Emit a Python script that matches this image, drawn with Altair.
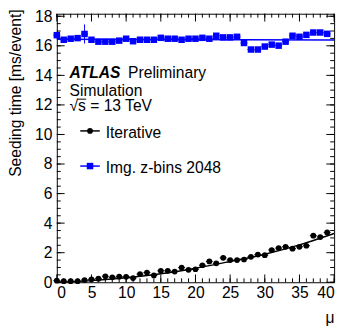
import altair as alt
import pandas as pd

# ---------------- data ----------------
mu = list(range(40))
iterative = [0.11, 0.07, 0.07, 0.07, 0.15, 0.20, 0.24, 0.40, 0.33, 0.38,
             0.37, 0.28, 0.55, 0.66, 0.46, 0.77, 0.77, 0.72, 0.99, 0.84,
             0.88, 1.15, 1.41, 1.28, 1.65, 1.50, 1.50, 1.54, 1.72, 1.87,
             1.83, 2.18, 2.31, 2.40, 2.27, 2.40, 2.47, 3.15, 3.06, 3.37]
imgz = [16.72, 16.41, 16.48, 16.52, 16.80, 16.41, 16.28, 16.28, 16.28, 16.35,
        16.48, 16.31, 16.41, 16.41, 16.41, 16.54, 16.48, 16.48, 16.41, 16.48,
        16.48, 16.54, 16.48, 16.68, 16.57, 16.57, 16.61, 16.19, 15.75, 15.75,
        15.95, 16.08, 16.01, 16.28, 16.68, 16.61, 16.74, 16.90, 16.90, 16.81]
imgz_err = [0.15, 0.03, 0.03, 0.03, 0.65, 0.03, 0.03, 0.03, 0.03, 0.03,
            0.03, 0.03, 0.03, 0.03, 0.03, 0.03, 0.03, 0.03, 0.03, 0.03,
            0.03, 0.03, 0.03, 0.03, 0.03, 0.03, 0.03, 0.03, 0.03, 0.03,
            0.03, 0.03, 0.03, 0.03, 0.03, 0.03, 0.03, 0.03, 0.03, 0.03]
iter_fit_mu = [0, 5, 10, 15, 20, 25, 30, 35, 40]
iter_fit = [0.0, 0.11, 0.30, 0.57, 0.95, 1.41, 1.90, 2.53, 3.30]
img_fit_mu = [0, 40]
img_fit = [16.45, 16.40]

x_major = [0, 5, 10, 15, 20, 25, 30, 35, 40]
x_minor = list(range(41))
y_major = [0, 2, 4, 6, 8, 10, 12, 14, 16, 18]
y_minor = [i * 0.5 for i in range(37)]

x_domain = [0, 40]
y_domain = [0, 18.17]

W, H = 284, 275
FONT = "Liberation Sans"
BLUE = "#0000ff"

xs = alt.Scale(domain=x_domain, nice=False, zero=False)
ys = alt.Scale(domain=y_domain, nice=False, zero=False)

df_iter = pd.DataFrame({"mu": mu, "t": iterative})
df_img = pd.DataFrame({"mu": mu, "t": imgz, "e": imgz_err})
df_iter_fit = pd.DataFrame({"mu": iter_fit_mu, "t": iter_fit})
df_img_fit = pd.DataFrame({"mu": img_fit_mu, "t": img_fit})
one = pd.DataFrame({"a": [0]})

x_axis = alt.Axis(values=x_major, ticks=False, tickSize=0, domain=False, grid=False,
                  labelFont=FONT, labelFontSize=16, labelColor="black", labelPadding=3,
                  title="μ", titleFont=FONT, titleFontSize=16, titleFontWeight="normal",
                  titleColor="black", titleAnchor="end", titleAlign="right",
                  titleBaseline="alphabetic", titleX=W, titleY=41)
y_axis = alt.Axis(values=y_major, ticks=False, tickSize=0, domain=False, grid=False,
                  labelFont=FONT, labelFontSize=16, labelColor="black", labelPadding=5,
                  title="Seeding time [ms/event]", titleFont=FONT, titleFontSize=16,
                  titleFontWeight="normal", titleColor="black", titleAnchor="end",
                  titleAngle=270, titleAlign="right", titleBaseline="alphabetic",
                  titleX=-37, titleY=-5)


def X(field):
    return alt.X(field, scale=xs, axis=x_axis)


def Y(field):
    return alt.Y(field, scale=ys, axis=y_axis)


layers = []

# tick marks pointing inward on all four sides
for vals, ln in ((x_major, 8), (x_minor, 4)):
    d = pd.DataFrame({"v": vals})
    layers.append(alt.Chart(d).mark_rule(color="black", strokeWidth=1).encode(
        x=X("v:Q"), y=alt.value(H), y2=alt.value(H - ln)))
    layers.append(alt.Chart(d).mark_rule(color="black", strokeWidth=1).encode(
        x=X("v:Q"), y=alt.value(0), y2=alt.value(ln)))
for vals, ln in ((y_major, 8), (y_minor, 4)):
    d = pd.DataFrame({"v": vals})
    layers.append(alt.Chart(d).mark_rule(color="black", strokeWidth=1).encode(
        y=Y("v:Q"), x=alt.value(0), x2=alt.value(ln)))
    layers.append(alt.Chart(d).mark_rule(color="black", strokeWidth=1).encode(
        y=Y("v:Q"), x=alt.value(W), x2=alt.value(W - ln)))

# fit lines
layers.append(alt.Chart(df_iter_fit).mark_line(color="black", strokeWidth=1.5, interpolate="monotone").encode(
    x=X("mu:Q"), y=Y("t:Q")))
layers.append(alt.Chart(df_img_fit).mark_line(color=BLUE, strokeWidth=1.5).encode(
    x=X("mu:Q"), y=Y("t:Q")))

# horizontal (bin width) error bars
layers.append(alt.Chart(df_iter).transform_calculate(lo="datum.mu - 0.5", hi="datum.mu + 0.5")
              .mark_rule(color="black", strokeWidth=1).encode(x=X("lo:Q"), x2="hi:Q", y=Y("t:Q")))
layers.append(alt.Chart(df_img).transform_calculate(lo="datum.mu - 0.5", hi="datum.mu + 0.5")
              .mark_rule(color=BLUE, strokeWidth=1).encode(x=X("lo:Q"), x2="hi:Q", y=Y("t:Q")))
# vertical error bars
layers.append(alt.Chart(df_img).transform_calculate(lo="datum.t - datum.e", hi="datum.t + datum.e")
              .mark_rule(color=BLUE, strokeWidth=1).encode(x=X("mu:Q"), y=Y("lo:Q"), y2="hi:Q"))

# markers
layers.append(alt.Chart(df_iter).mark_point(shape="circle", filled=True, color="black", size=34, opacity=1).encode(
    x=X("mu:Q"), y=Y("t:Q")))
layers.append(alt.Chart(df_img).mark_point(shape="square", filled=True, color=BLUE, size=44, opacity=1).encode(
    x=X("mu:Q"), y=Y("t:Q")))


# legend
def txt(s, x, y, **kw):
    return alt.Chart(one).mark_text(align="left", baseline="alphabetic", font=FONT, fontSize=16,
                                    color="black", **kw).encode(
        x=alt.value(x), y=alt.value(y), text=alt.value(s))


layers.append(txt("ATLAS", 13, 66, fontStyle="italic", fontWeight="bold"))
layers.append(txt("Preliminary", 73, 66))
layers.append(txt("Simulation", 13, 84))
layers.append(txt("√s = 13 TeV", 13, 100))
# overbar of the square root
layers.append(alt.Chart(one).mark_rule(color="black", strokeWidth=1).encode(
    x=alt.value(21), x2=alt.value(30), y=alt.value(87.5)))
layers.append(txt("Iterative", 50, 127))
layers.append(txt("Img. z-bins 2048", 50, 163))

layers.append(alt.Chart(one).mark_rule(color="black", strokeWidth=1.5).encode(
    x=alt.value(24), x2=alt.value(44), y=alt.value(120)))
layers.append(alt.Chart(one).mark_point(shape="circle", filled=True, color="black", size=34, opacity=1).encode(
    x=alt.value(34), y=alt.value(120)))
layers.append(alt.Chart(one).mark_rule(color=BLUE, strokeWidth=1.5).encode(
    x=alt.value(24), x2=alt.value(44), y=alt.value(156)))
layers.append(alt.Chart(one).mark_point(shape="square", filled=True, color=BLUE, size=44, opacity=1).encode(
    x=alt.value(34), y=alt.value(156)))

chart = alt.layer(*layers).properties(
    width=W, height=H,
    padding={"left": 50, "top": 2, "right": 5, "bottom": 44},
    autosize=alt.AutoSizeParams(type="none"),
    background="white",
).configure_view(stroke="black", strokeWidth=1)

chart.save("out.html", embed_options={"renderer": "svg", "actions": False})
